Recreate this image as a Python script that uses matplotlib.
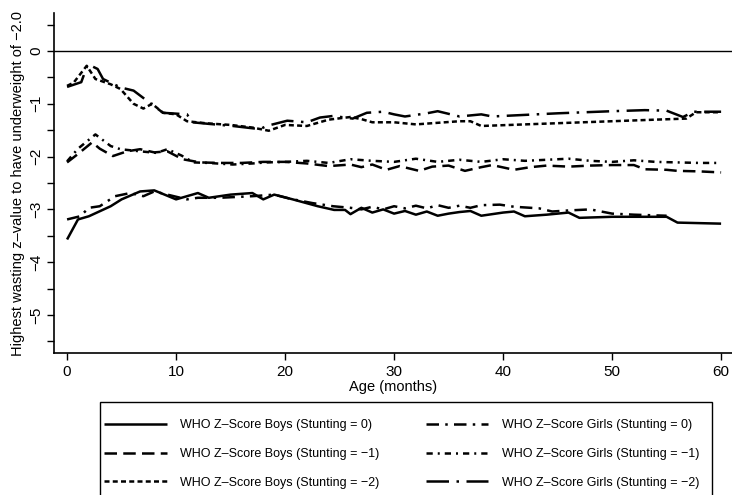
import matplotlib
matplotlib.use("Agg")
import matplotlib.pyplot as plt
from matplotlib.patches import Rectangle
from matplotlib.ticker import MultipleLocator

plt.rcParams['font.family'] = ['Liberation Sans', 'DejaVu Sans']

# values (age in months, z-value)
boys0_age = [0, 1, 2, 4, 5, 6.7, 8, 10, 12, 13, 15, 17, 18, 19, 20.7, 23, 24.5, 25.5, 26, 27,
             28, 29, 30, 31, 32, 33, 34, 35, 36, 37, 38, 39, 40, 41, 42, 44, 46, 47, 50, 53,
             55, 56, 58, 60]
boys0_val = [-3.57, -3.19, -3.13, -2.94, -2.81, -2.66, -2.64, -2.81, -2.69, -2.78, -2.72, -2.69,
             -2.81, -2.72, -2.81, -2.94, -3.01, -3.01, -3.09, -2.97, -3.06, -3.0, -3.08, -3.03,
             -3.1, -3.04, -3.12, -3.08, -3.05, -3.03, -3.12, -3.09, -3.06, -3.04, -3.13, -3.1,
             -3.06, -3.16, -3.14, -3.14, -3.14, -3.25, -3.26, -3.27]

boys1_age = [0, 1, 2.3, 3, 4.2, 5.5, 6.7, 8, 9.2, 10.6, 12.2, 14, 16, 18, 20, 22, 24, 26, 27,
             28, 29.3, 30.5, 32.3, 33.5, 35, 36.5, 38, 39, 41, 42.5, 44, 46, 48, 50, 52, 53,
             55, 56, 58, 60]
boys1_val = [-2.11, -1.95, -1.73, -1.85, -1.99, -1.9, -1.86, -1.92, -1.9, -2.05, -2.11, -2.12,
             -2.12, -2.1, -2.1, -2.13, -2.18, -2.15, -2.2, -2.15, -2.25, -2.18, -2.27, -2.19,
             -2.17, -2.27, -2.2, -2.16, -2.25, -2.2, -2.17, -2.19, -2.17, -2.16, -2.16, -2.24,
             -2.25, -2.27, -2.28, -2.3]

boys2_age = [0, 0.6, 1.8, 2.6, 4, 4.9, 6.1, 7, 7.8, 8.8, 10, 11, 12.8, 15, 17, 18.5, 20, 22,
             24, 26, 27, 28, 30, 32, 34, 36, 37, 38, 42, 46, 50, 54, 56.8, 57.7, 60]
boys2_val = [-0.66, -0.6, -0.28, -0.53, -0.63, -0.72, -1.0, -1.09, -1.0, -1.17, -1.2, -1.33,
             -1.37, -1.4, -1.45, -1.51, -1.4, -1.42, -1.3, -1.25, -1.29, -1.35, -1.35, -1.39,
             -1.36, -1.33, -1.33, -1.42, -1.39, -1.36, -1.33, -1.3, -1.28, -1.16, -1.16]

girls0_age = [0, 1.2, 2, 3, 4.4, 5.8, 7, 8, 9.2, 11, 12, 14, 17, 19, 20.5, 22.5, 24.4, 26, 27,
              28, 29, 30, 31, 32, 33, 34, 35, 36, 37, 38, 39.7, 41, 43.3, 44.5, 46, 48, 50,
              52, 55]
girls0_val = [-3.19, -3.13, -2.97, -2.94, -2.75, -2.69, -2.75, -2.66, -2.72, -2.81, -2.78,
              -2.78, -2.75, -2.72, -2.8, -2.88, -2.94, -2.97, -3.0, -2.95, -3.0, -2.94, -2.98,
              -2.93, -2.98, -2.92, -2.97, -2.93, -2.97, -2.92, -2.91, -2.95, -2.98, -3.04,
              -3.02, -3.0, -3.08, -3.1, -3.12]

girls1_age = [0, 1, 2.6, 4, 4.9, 6.7, 8.2, 9.2, 10.5, 11.6, 13, 15.2, 17, 18.3, 20, 22, 24, 26,
              28, 30, 32, 34, 36, 38, 40, 42, 44, 46, 48, 50, 52, 54, 56, 58, 60]
girls1_val = [-2.09, -1.85, -1.58, -1.8, -1.86, -1.9, -1.93, -1.86, -1.98, -2.11, -2.12, -2.15,
              -2.13, -2.11, -2.1, -2.08, -2.12, -2.05, -2.08, -2.1, -2.04, -2.1, -2.06, -2.1,
              -2.05, -2.08, -2.06, -2.04, -2.08, -2.1, -2.07, -2.1, -2.11, -2.12, -2.12]

girls2_age = [0, 1.3, 1.9, 2.8, 3.3, 4.9, 6.1, 8.8, 11, 11.5, 13, 15.2, 17.7, 18.3, 20.2, 22,
              23.2, 24.4, 26.2, 27.5, 29, 30, 31, 33, 34, 36, 38, 39, 41, 45, 50, 53, 55, 56.5,
              57.5, 60]
girls2_val = [-0.68, -0.59, -0.25, -0.34, -0.53, -0.69, -0.75, -1.17, -1.2, -1.35, -1.38, -1.42,
              -1.48, -1.42, -1.32, -1.35, -1.26, -1.23, -1.28, -1.17, -1.15, -1.2, -1.24, -1.18,
              -1.14, -1.24, -1.2, -1.24, -1.22, -1.18, -1.14, -1.12, -1.13, -1.25, -1.15, -1.15]

x_ticks = [0, 10, 20, 30, 40, 50, 60]
y_labels = [0, -1, -2, -3, -4, -5]

series = [
    (boys0_age, boys0_val, "WHO Z\u2013Score Boys (Stunting = 0)", (0, ())),
    (boys1_age, boys1_val, "WHO Z\u2013Score Boys (Stunting = \u22121)", (0, (5, 2.5))),
    (boys2_age, boys2_val, "WHO Z\u2013Score Boys (Stunting = \u22122)", (0, (2, 1.3))),
    (girls0_age, girls0_val, "WHO Z\u2013Score Girls (Stunting = 0)", (0, (5, 2.5, 1, 2.5))),
    (girls1_age, girls1_val, "WHO Z\u2013Score Girls (Stunting = \u22121)", (0, (2.5, 2, 0.8, 2))),
    (girls2_age, girls2_val, "WHO Z\u2013Score Girls (Stunting = \u22122)", (0, (9, 3, 1, 3))),
]

fig = plt.figure(figsize=(7.32, 4.95), dpi=100)
ax = fig.add_axes([54 / 732, 1 - 353 / 495, 1 - 54 / 732, 340 / 495])

for age, val, label, ls in series:
    ax.plot(age, val, color="black", linewidth=1.8, linestyle=ls, label=label)

ax.axhline(0, color="black", linewidth=1.0)

ax.set_xlim(-1.2, 61)
ax.set_ylim(-5.72, 0.72)
ax.set_xticks(x_ticks)
ax.set_yticks(y_labels)
ax.yaxis.set_minor_locator(MultipleLocator(0.5))
ax.set_yticklabels(["0" if v == 0 else "\u2212%d" % -v for v in y_labels],
                   rotation=90, va="center")
ax.tick_params(axis="both", which="both", direction="out", length=5, width=1.0,
               labelsize=11, colors="black")
ax.tick_params(axis="y", pad=3)

for side in ["top", "right"]:
    ax.spines[side].set_visible(False)
for side in ["left", "bottom"]:
    ax.spines[side].set_linewidth(1.2)

ax.set_xlabel("Age (months)", fontsize=10.5, labelpad=1)
ax.set_ylabel("Highest wasting z\u2013value to have underweight of \u22122.0", fontsize=10.5,
              labelpad=3)

# legend box runs off the bottom of the figure, as in the original
fig.add_artist(Rectangle((100 / 732, -0.05), 612 / 732, 93 / 495 + 0.05,
                         transform=fig.transFigure, fill=False, edgecolor="black",
                         linewidth=1.0))
fig.legend(loc="upper left", bbox_to_anchor=(104 / 732, 1 - 419 / 495), ncol=2,
           fontsize=9, frameon=False, handlelength=5.0, handletextpad=1.1,
           columnspacing=3.7, labelspacing=1.35, borderpad=0, borderaxespad=0)

fig.savefig("out.png", dpi=100)
